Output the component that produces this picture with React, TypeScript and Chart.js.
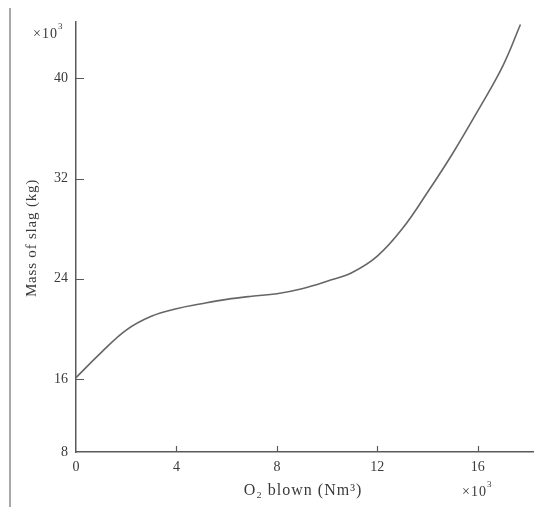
import React, { useEffect, useRef } from "react";
import { Chart, registerables } from "chart.js";

Chart.register(...registerables);

// O2 blown (x10^3 Nm^3)
const o2Blown = [0, 1, 2, 3, 4, 5, 6, 7, 8, 9, 10, 11, 12, 13, 14, 15, 16, 17, 17.7];
// Mass of slag (x10^3 kg)
const slagMass = [16.1, 18.1, 19.9, 21.0, 21.6, 22.0, 22.35, 22.6, 22.8, 23.2, 23.8, 24.5, 25.8, 28.0, 30.9, 34.0, 37.4, 41.0, 44.3];

const xTicks = [0, 4, 8, 12, 16];
const yTicks = [16, 24, 32, 40];
const yBreakLabel = "8"; // bottom of broken axis
const yMin = 10.16;
const yMax = 44.5;
const xMax = 18.2;

const FONT = "'Liberation Serif', 'DejaVu Serif', serif";
const TEXT = "#3a3a3a";
const AXIS = "#5a5a5a";

function drawMultiplier(ctx: any, left: number, cy: number) {
  ctx.save();
  ctx.textAlign = "left";
  ctx.textBaseline = "middle";
  ctx.font = `14px ${FONT}`;
  (ctx as any).letterSpacing = "1px";
  ctx.fillText("\u00D710", left, cy);
  const w = ctx.measureText("\u00D710").width;
  (ctx as any).letterSpacing = "0px";
  ctx.font = `9px ${FONT}`;
  ctx.fillText("3", left + w, cy - 7);
  ctx.restore();
}

const decorPlugin = {
  id: "decor",
  afterDraw(chart: any) {
    const { ctx, chartArea, scales } = chart;
    const x = scales.x;
    const y = scales.y;
    ctx.save();
    // inward tick marks
    ctx.strokeStyle = AXIS;
    ctx.lineWidth = 1.2;
    ctx.beginPath();
    yTicks.forEach((v) => {
      const py = Math.round(y.getPixelForValue(v)) + 0.5;
      ctx.moveTo(chartArea.left, py);
      ctx.lineTo(chartArea.left + 8, py);
    });
    xTicks.slice(1).forEach((v) => {
      const px = Math.round(x.getPixelForValue(v)) + 0.5;
      ctx.moveTo(px, chartArea.bottom);
      ctx.lineTo(px, chartArea.bottom - 6);
    });
    ctx.stroke();

    ctx.fillStyle = TEXT;
    // y title
    ctx.save();
    ctx.translate(32, 238);
    ctx.rotate(-Math.PI / 2);
    ctx.font = `15px ${FONT}`;
    ctx.letterSpacing = "0.8px";
    ctx.textAlign = "center";
    ctx.textBaseline = "middle";
    ctx.fillText("Mass of slag (kg)", 0, 0);
    ctx.restore();

    // x title
    ctx.save();
    ctx.font = `16px ${FONT}`;
    ctx.letterSpacing = "1px";
    ctx.textAlign = "center";
    ctx.textBaseline = "middle";
    ctx.fillText("O\u2082 blown (Nm\u00B3)", 303, 491);
    ctx.restore();

    // multipliers
    drawMultiplier(ctx, 33, 34);
    drawMultiplier(ctx, 462, 492);
    ctx.restore();
  },
};

export default function App() {
  const ref = useRef<HTMLCanvasElement | null>(null);
  useEffect(() => {
    if (!ref.current) return;
    const chart = new Chart(ref.current, {
      type: "line",
      data: {
        datasets: [
          {
            data: o2Blown.map((v, i) => ({ x: v, y: slagMass[i] })),
            borderColor: "#666",
            borderWidth: 1.6,
            pointRadius: 0,
            tension: 0.4,
            fill: false,
          },
        ],
      },
      options: {
        responsive: false,
        animation: false,
        devicePixelRatio: 1,
        layout: { padding: { left: 0, right: 5, top: 22, bottom: 0 } },
        plugins: { legend: { display: false }, tooltip: { enabled: false } },
        scales: {
          x: {
            type: "linear",
            min: 0,
            max: xMax,
            afterFit: (s: any) => {
              s.height = 55;
            },
            afterBuildTicks: (s: any) => {
              s.ticks = xTicks.map((v) => ({ value: v }));
            },
            grid: { display: false, drawTicks: false },
            border: { display: true, color: AXIS, width: 1.5 },
            ticks: {
              padding: 7,
              color: TEXT,
              font: { family: FONT, size: 14 },
              maxRotation: 0,
              autoSkip: false,
              callback: (v: any) => String(v),
            },
          },
          y: {
            type: "linear",
            min: yMin,
            max: yMax,
            afterFit: (s: any) => {
              s.width = 76;
            },
            afterBuildTicks: (s: any) => {
              s.ticks = [{ value: yMin }, ...yTicks.map((v) => ({ value: v }))];
            },
            grid: { display: false, drawTicks: false },
            border: { display: true, color: AXIS, width: 1.5 },
            ticks: {
              padding: 8,
              color: TEXT,
              font: { family: FONT, size: 14 },
              autoSkip: false,
              callback: (v: any) => (v === yMin ? yBreakLabel : String(v)),
            },
          },
        },
      },
      plugins: [decorPlugin],
    } as any);
    return () => chart.destroy();
  }, []);

  return (
    <div style={{ position: "fixed", left: 0, top: 0, width: 538, height: 507, background: "#fff" }}>
      <div
        style={{
          position: "absolute",
          left: 9,
          top: 8,
          width: 2,
          height: 499,
          background: "#a8a8a8",
        }}
      />
      <canvas ref={ref} width={538} height={507} style={{ position: "absolute", left: 0, top: 0 }} />
    </div>
  );
}
